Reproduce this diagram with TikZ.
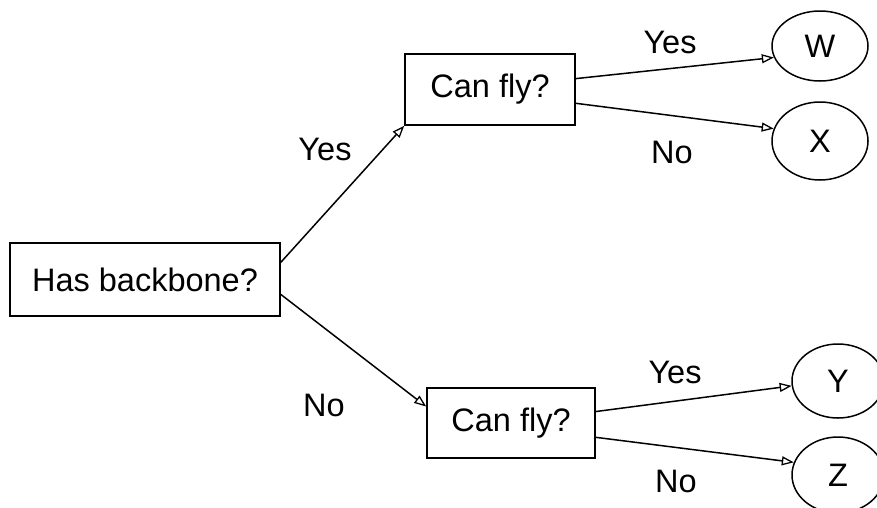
\documentclass[tikz,border=0pt]{standalone}
\usepackage{fontspec}
\setmainfont{Liberation Sans}
\usetikzlibrary{arrows.meta,calc,shapes.geometric}

\tikzset{
  question/.style={draw, line width=1.6pt, inner sep=0pt, font=\fontsize{32.5}{38}\selectfont},
  leaf/.style={draw, ellipse, line width=1.5pt, inner sep=0pt, font=\fontsize{32.5}{38}\selectfont},
  branch/.style={line width=1.5pt, -{Triangle[open,length=12pt,width=9pt,line width=1.3pt]}},
  answer/.style={font=\fontsize{32.5}{38}\selectfont, inner sep=0pt}
}

\begin{document}
\begin{tikzpicture}[x=1pt, y=-1pt]
  \clip (0,0) rectangle (877,507);
  \useasboundingbox (0,0) rectangle (877,507);

  % decision boxes
  \node[question, minimum width=270pt, minimum height=73pt] (root) at (145,279.5) {Has backbone?};
  \node[question, minimum width=170pt, minimum height=71pt] (flyA) at (490,89.5) {Can fly?};
  \node[question, minimum width=168pt, minimum height=70pt] (flyB) at (511,423) {Can fly?};

  % outcomes
  \node[leaf, minimum width=96pt, minimum height=70pt] (W) at (820,46) {W};
  \node[leaf, minimum width=96pt, minimum height=78pt] (X) at (820,141) {X};
  \node[leaf, minimum width=92pt, minimum height=74pt] (Y) at (838,381) {Y};
  \node[leaf, minimum width=92pt, minimum height=76pt] (Z) at (838,475) {Z};

  % branches
  \draw[branch] ($(root.north east)!0.27!(root.south east)$) -- (flyA.south west);
  \draw[branch] ($(root.north east)!0.70!(root.south east)$) -- ($(flyB.north west)!0.27!(flyB.south west)$);
  \draw[branch] ($(flyA.north east)!0.35!(flyA.south east)$) -- (W.194);
  \draw[branch] ($(flyA.north east)!0.69!(flyA.south east)$) -- (X.165);
  \draw[branch] ($(flyB.north east)!0.34!(flyB.south east)$) -- (Y.186);
  \draw[branch] ($(flyB.north east)!0.70!(flyB.south east)$) -- (Z.164);

  % branch labels
  \node[answer] (yesA) at (325,149) {Yes};
  \node[answer] (noA) at (324,405) {No};
  \node[answer] (yesB) at (670,42) {Yes};
  \node[answer] (noB) at (672,152) {No};
  \node[answer] (yesC) at (675,372) {Yes};
  \node[answer] (noC) at (676,481) {No};
\end{tikzpicture}
\end{document}
